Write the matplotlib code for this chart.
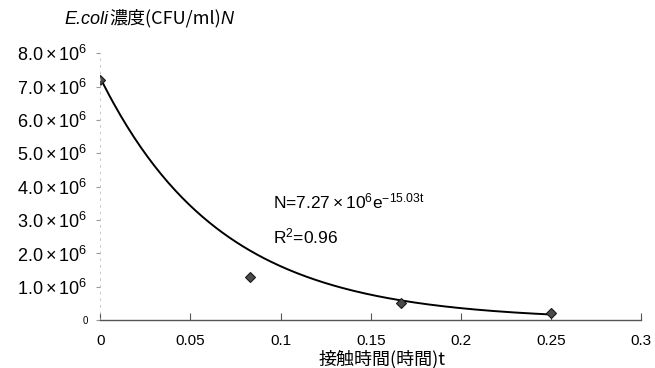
import matplotlib
matplotlib.use("Agg")
import matplotlib.pyplot as plt
import numpy as np

plt.rcParams['font.family'] = ['Liberation Sans', 'Noto Sans CJK JP', 'DejaVu Sans']
plt.rcParams['mathtext.fontset'] = 'custom'
plt.rcParams['mathtext.rm'] = 'Liberation Sans'
plt.rcParams['mathtext.it'] = 'Liberation Sans:italic'
plt.rcParams['mathtext.bf'] = 'Liberation Sans:bold'

# measured points (contact time in hours, E.coli CFU/ml)
time_h = [0.0, 0.0833, 0.1667, 0.25]
ecoli = [7.2e6, 1.3e6, 0.5e6, 0.2e6]

# fitted curve N = a * exp(b t)
fit_a = 7.27e6
fit_b = -15.03
fit_r2 = 0.96

x_ticks = [0, 0.05, 0.1, 0.15, 0.2, 0.25, 0.3]
x_tick_labels = ['0', '0.05', '0.1', '0.15', '0.2', '0.25', '0.3']
y_ticks = [0, 1e6, 2e6, 3e6, 4e6, 5e6, 6e6, 7e6, 8e6]
y_tick_labels = ['0'] + [r'$\mathrm{%d.0\times10^{6}}$' % k for k in range(1, 9)]

fig = plt.figure(figsize=(6.55, 3.68), dpi=100)
ax = fig.add_axes([0.153, 0.13, 0.826, 0.725])

t_fit = np.linspace(0, 0.25, 200)
ax.plot(t_fit, fit_a * np.exp(fit_b * t_fit), color='black', lw=1.4)
ax.plot(time_h, ecoli, linestyle='none', marker='D', markersize=5,
        markerfacecolor='#4a4a4a', markeredgecolor='#1a1a1a', markeredgewidth=0.8)

ax.set_xlim(0, 0.3)
ax.set_ylim(0, 8e6)
ax.set_xticks(x_ticks)
ax.set_xticklabels(x_tick_labels, fontsize=11)
ax.set_yticks(y_ticks)
ax.set_yticklabels(y_tick_labels, fontsize=13)
ax.get_yticklabels()[0].set_fontsize(7)

ax.tick_params(axis='x', direction='in', length=5, width=0.8, color='#555555', pad=10)
ax.tick_params(axis='y', direction='out', length=3, width=0.8, color='#999999', pad=6)

for s in ['top', 'right']:
    ax.spines[s].set_visible(False)
ax.spines['bottom'].set_color('#555555')
ax.spines['bottom'].set_linewidth(1.0)
ax.spines['left'].set_color('#bbbbbb')
ax.spines['left'].set_linewidth(0.6)
ax.spines['left'].set_linestyle((0, (2, 6)))

# equation text
ax.text(0.096, 3.35e6, r'$\mathrm{N\text{=}7.27\times10^{6}e^{%.2ft}}$' % fit_b,
        fontsize=12.5, ha='left', va='baseline')
ax.text(0.096, 2.3e6, r'$\mathrm{R^{2}\text{=}%.2f}$' % fit_r2,
        fontsize=12.5, ha='left', va='baseline')

# axis titles
t1 = fig.text(0.099, 0.935, 'E.coli', fontsize=13, style='italic',
              ha='left', va='baseline')
t2 = ax.annotate('濃度(CFU/ml)', xy=(1, 0), xycoords=t1, fontsize=13,
                 family=['Noto Sans CJK JP', 'DejaVu Sans'], va='bottom', ha='left')
ax.annotate('N', xy=(1, 0), xycoords=t2, fontsize=13, style='italic',
            va='bottom', ha='left')

fig.text(0.583, 0.0, '接触時間(時間)t', fontsize=13,
         family=['Noto Sans CJK JP', 'DejaVu Sans'], ha='center', va='bottom')

fig.savefig('out.png', dpi=100)
